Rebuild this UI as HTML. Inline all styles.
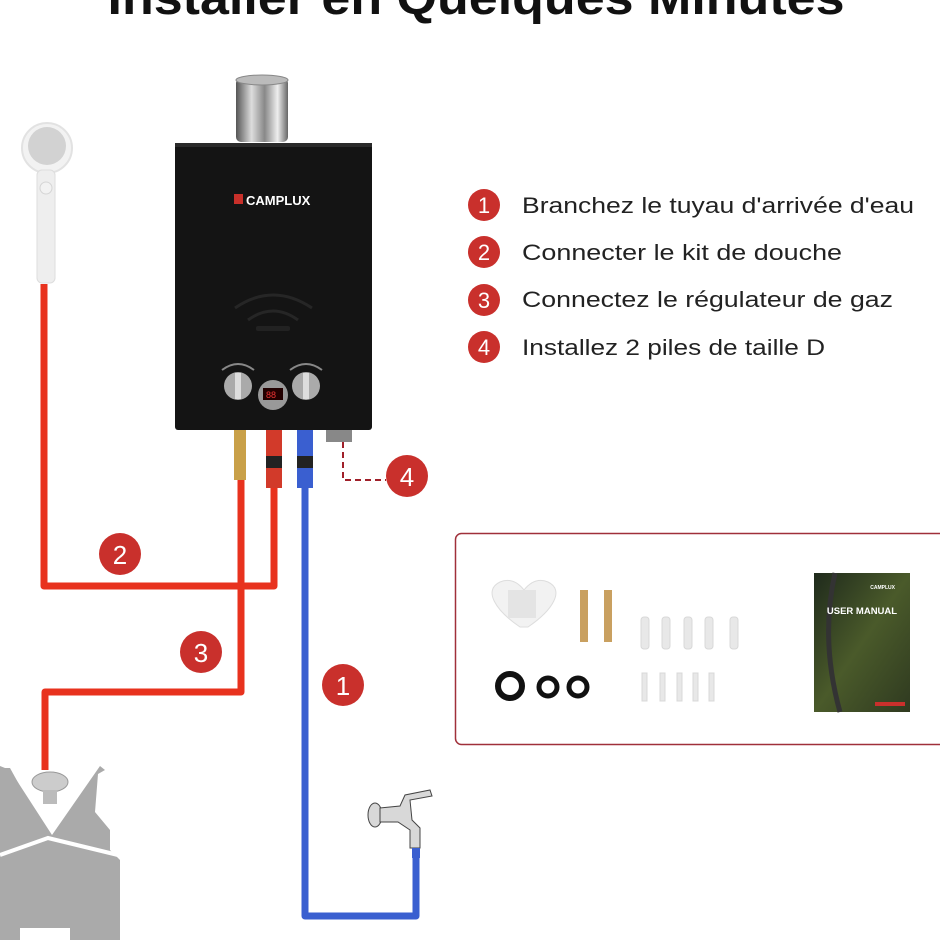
<!DOCTYPE html>
<html><head><meta charset="utf-8"><style>
html,body{margin:0;padding:0;background:#fff;}
svg{display:block;}
text{font-family:"Liberation Sans","DejaVu Sans",sans-serif;}
</style></head><body>
<svg width="940" height="940" viewBox="0 0 940 940" xmlns="http://www.w3.org/2000/svg">
<defs>
<linearGradient id="chrome" x1="0" x2="1"><stop offset="0" stop-color="#555"/><stop offset=".3" stop-color="#ddd"/><stop offset=".55" stop-color="#888"/><stop offset=".8" stop-color="#eee"/><stop offset="1" stop-color="#666"/></linearGradient>
<linearGradient id="book" x1="0" x2="1" y1="0" y2="1"><stop offset="0" stop-color="#1f2a1c"/><stop offset=".5" stop-color="#4a5a2a"/><stop offset="1" stop-color="#2f3a20"/></linearGradient>
</defs>
<text x="476" y="14" text-anchor="middle" font-size="48" font-weight="bold" fill="#111" textLength="737" lengthAdjust="spacingAndGlyphs">Installer en Quelques Minutes</text>

<circle cx="47" cy="148" r="25" fill="#f2f2f2" stroke="#e2e2e2" stroke-width="2"/>
<circle cx="47" cy="146" r="19" fill="#d2d2d2"/>
<rect x="37" y="170" width="18" height="113" rx="5" fill="#eeeeee" stroke="#dddddd"/>
<circle cx="46" cy="188" r="6" fill="#f2f2f2" stroke="#d5d5d5"/>

<g fill="none" stroke-linejoin="round" stroke-width="7">
<polyline points="44,284 44,586 274,586 274,480" stroke="#e8321e"/>
<polyline points="241,480 241,692 45,692 45,770" stroke="#e8321e"/>
<polyline points="305,470 305,916 416,916 416,855" stroke="#3a5fd0"/>
</g>
<polyline points="343,442 343,480 386,480" fill="none" stroke="#a0202a" stroke-width="2" stroke-dasharray="6,4"/>

<rect x="236" y="78" width="52" height="64" rx="5" fill="url(#chrome)"/>
<ellipse cx="262" cy="80" rx="26" ry="5" fill="#bbb" stroke="#888"/>
<rect x="175" y="143" width="197" height="287" rx="3" fill="#141414"/>
<rect x="175" y="143" width="197" height="4" fill="#2a2a2a"/>
<rect x="234" y="194" width="9" height="10" fill="#c8302a"/>
<text x="246" y="205" font-size="13" font-weight="bold" fill="#fff">CAMPLUX</text>
<path d="M235 308 Q273 282 312 308" stroke="#262626" stroke-width="3" fill="none"/>
<path d="M248 320 Q273 302 298 320" stroke="#262626" stroke-width="3" fill="none"/>
<rect x="256" y="326" width="34" height="5" rx="2" fill="#222"/>
<circle cx="238" cy="386" r="14" fill="#aaa"/><rect x="235" y="373" width="6" height="26" fill="#ddd"/>
<circle cx="306" cy="386" r="14" fill="#aaa"/><rect x="303" y="373" width="6" height="26" fill="#ddd"/>
<path d="M222 370 Q238 358 254 370" stroke="#888" fill="none" stroke-width="2"/>
<path d="M290 370 Q306 358 322 370" stroke="#888" fill="none" stroke-width="2"/>
<circle cx="273" cy="395" r="15" fill="#999"/>
<rect x="263" y="388" width="20" height="12" fill="#200" /><text x="266" y="398" font-size="9" fill="#e33">88</text>
<rect x="234" y="430" width="12" height="50" fill="#c9a048"/>
<rect x="266" y="430" width="16" height="58" fill="#d23a2a"/><rect x="266" y="456" width="16" height="12" fill="#222"/>
<rect x="297" y="430" width="16" height="58" fill="#3a5fd0"/><rect x="297" y="456" width="16" height="12" fill="#222"/>
<rect x="326" y="430" width="26" height="12" fill="#888"/>

<g font-size="26" fill="#fff" text-anchor="middle">
<circle cx="120" cy="554" r="21" fill="#c9302c"/><text x="120" y="564">2</text>
<circle cx="201" cy="652" r="21" fill="#c9302c"/><text x="201" y="662">3</text>
<circle cx="343" cy="685" r="21" fill="#c9302c"/><text x="343" y="695">1</text>
<circle cx="407" cy="476" r="21" fill="#c9302c"/><text x="407" y="486">4</text>
</g>

<g font-size="22" fill="#fff" text-anchor="middle">
<circle cx="484" cy="205" r="16" fill="#c9302c"/><text x="484" y="213">1</text>
<circle cx="484" cy="252" r="16" fill="#c9302c"/><text x="484" y="260">2</text>
<circle cx="484" cy="300" r="16" fill="#c9302c"/><text x="484" y="308">3</text>
<circle cx="484" cy="347" r="16" fill="#c9302c"/><text x="484" y="355">4</text>
</g>
<g font-size="22" fill="#222">
<text x="522" y="213" textLength="392" lengthAdjust="spacingAndGlyphs">Branchez le tuyau d'arrivée d'eau</text>
<text x="522" y="260" textLength="320" lengthAdjust="spacingAndGlyphs">Connecter le kit de douche</text>
<text x="522" y="307" textLength="371" lengthAdjust="spacingAndGlyphs">Connectez le régulateur de gaz</text>
<text x="522" y="355" textLength="303" lengthAdjust="spacingAndGlyphs">Installez 2 piles de taille D</text>
</g>

<rect x="455.5" y="533.5" width="490" height="211" rx="6" fill="#fff" stroke="#a0303a" stroke-width="1.5"/>
<path d="M520 627 C495 610 483 590 500 582 C512 577 520 585 524 590 C528 585 536 577 548 582 C565 590 553 610 528 627 Z" fill="#f2f2f2" stroke="#ddd"/>
<rect x="508" y="590" width="28" height="28" fill="#e4e4e4"/>
<rect x="580" y="590" width="8" height="52" fill="#c9a060"/>
<rect x="604" y="590" width="8" height="52" fill="#c9a060"/>
<g fill="#e8e8e8" stroke="#d8d8d8">
<rect x="641" y="617" width="8" height="32" rx="3"/><rect x="662" y="617" width="8" height="32" rx="3"/><rect x="684" y="617" width="8" height="32" rx="3"/><rect x="705" y="617" width="8" height="32" rx="3"/><rect x="730" y="617" width="8" height="32" rx="3"/>
<rect x="642" y="673" width="5" height="28"/><rect x="660" y="673" width="5" height="28"/><rect x="677" y="673" width="5" height="28"/><rect x="693" y="673" width="5" height="28"/><rect x="709" y="673" width="5" height="28"/>
</g>
<circle cx="510" cy="686" r="12" fill="none" stroke="#111" stroke-width="6"/>
<circle cx="548" cy="687" r="9" fill="none" stroke="#111" stroke-width="5"/>
<circle cx="578" cy="687" r="9" fill="none" stroke="#111" stroke-width="5"/>
<rect x="814" y="573" width="96" height="139" fill="url(#book)"/>
<path d="M835 573 Q820 640 840 712" stroke="#333" stroke-width="5" fill="none"/>
<text x="862" y="614" font-size="9.5" font-weight="bold" fill="#fff" text-anchor="middle">USER MANUAL</text>
<text x="895" y="589" font-size="5" font-weight="bold" fill="#fff" text-anchor="end">CAMPLUX</text>
<rect x="875" y="702" width="30" height="4" fill="#c9302c"/>

<path d="M0 768 L35 830 L42 826 L10 768 Z" fill="#aaa"/>
<path d="M0 766 L0 940 L120 940 L120 860 L110 850 L110 830 L95 812 L98 774 L105 770 L100 766 L52 835 L10 770 Z" fill="#aaa"/>
<path d="M0 855 L48 838 L118 855" stroke="#fff" stroke-width="4" fill="none"/>
<rect x="20" y="928" width="50" height="12" fill="#fff"/>
<ellipse cx="50" cy="782" rx="18" ry="10" fill="#ccc" stroke="#999"/>
<rect x="43" y="790" width="14" height="14" fill="#bbb"/>
<g fill="#d8d8d8" stroke="#444" stroke-width="1">
<ellipse cx="375" cy="815" rx="7" ry="12"/>
<path d="M380 808 L400 806 L405 795 L430 790 L432 796 L410 800 L412 820 L420 828 L420 848 L410 848 L410 830 L398 822 L380 822 Z"/>
</g>
<rect x="412" y="848" width="8" height="10" fill="#3a5fd0"/>
</svg>
</body></html>
